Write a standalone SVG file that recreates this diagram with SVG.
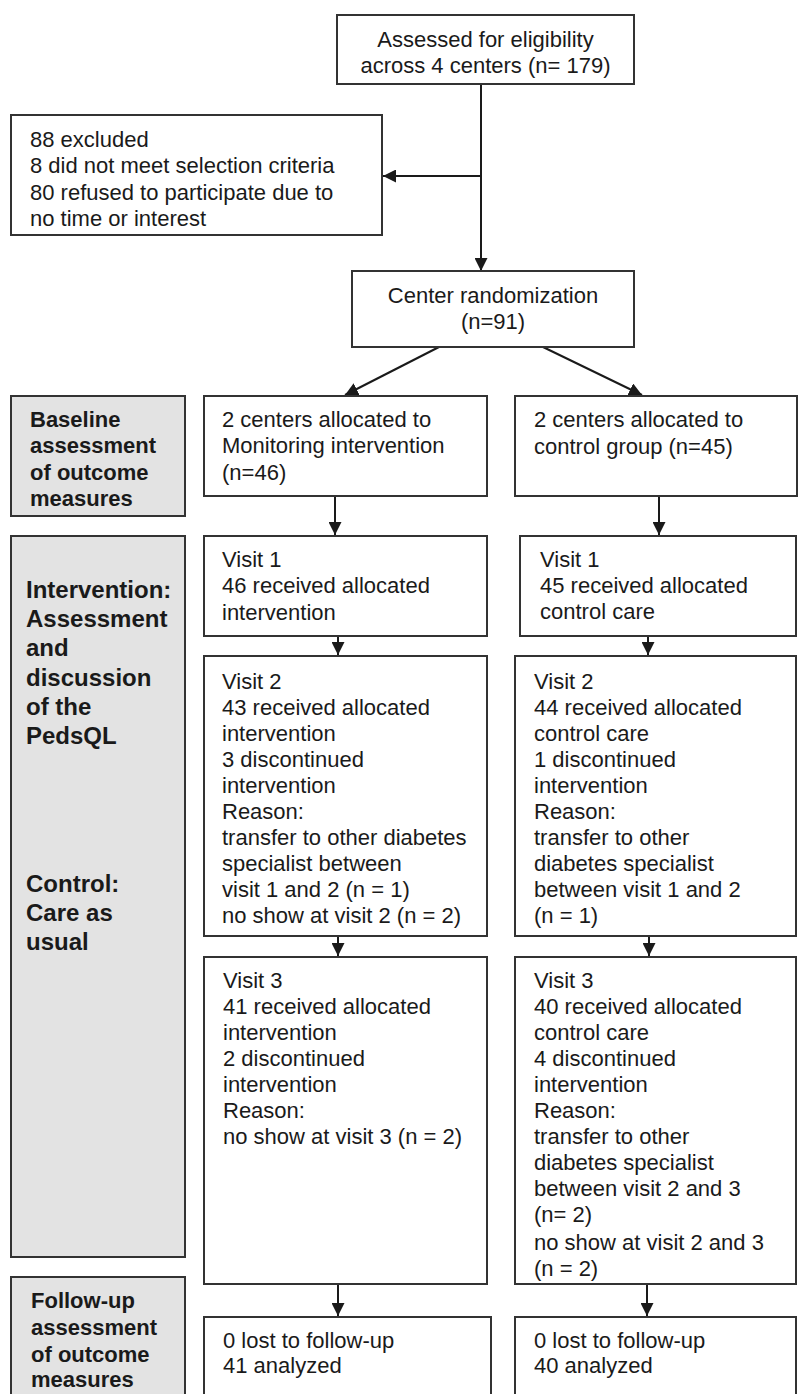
<svg xmlns="http://www.w3.org/2000/svg" width="798" height="1394" viewBox="0 0 798 1394">
  <defs>
    <marker id="arr" markerUnits="userSpaceOnUse" markerWidth="13" markerHeight="13" viewBox="0 0 12 12" refX="12" refY="6" orient="auto">
      <path d="M0,0 L12,6 L0,12 z" fill="#1a1a1a"/>
    </marker>
    <style>
      .box { fill: #ffffff; stroke: #333333; stroke-width: 2; }
      .gray { fill: #e3e3e3; stroke: #333333; stroke-width: 2; }
      .t { font-family: "Liberation Sans", Arial, sans-serif; font-size: 22px; fill: #1a1a1a; }
      .c { text-anchor: middle; }
      .b { font-weight: bold; }
      .b24 { font-size: 24px; font-weight: bold; }
      .ln { stroke: #1a1a1a; stroke-width: 2; fill: none; marker-end: url(#arr); }
      .ln0 { stroke: #1a1a1a; stroke-width: 2; fill: none; }
    </style>
  </defs>
  <rect width="798" height="1394" fill="#ffffff"/>

  <g id="connectors">
    <line class="ln" x1="481" y1="84" x2="481" y2="271"/>
    <line class="ln" x1="481" y1="176" x2="383" y2="176"/>
    <line class="ln" x1="439" y1="347" x2="345" y2="395"/>
    <line class="ln" x1="543" y1="347" x2="642" y2="395"/>
    <line class="ln" x1="335" y1="496" x2="335" y2="535"/>
    <line class="ln" x1="659" y1="496" x2="659" y2="535"/>
    <line class="ln" x1="338" y1="636" x2="338" y2="655"/>
    <line class="ln" x1="648" y1="636" x2="648" y2="655"/>
    <line class="ln" x1="338" y1="936" x2="338" y2="956"/>
    <line class="ln" x1="649" y1="936" x2="649" y2="956"/>
    <line class="ln" x1="338" y1="1284" x2="338" y2="1316"/>
    <line class="ln" x1="647" y1="1284" x2="647" y2="1316"/>
  </g>

  <g id="assessed">
    <rect class="box" x="337" y="15" width="297" height="69"/>
    <text class="t c" x="485.5" y="47">Assessed for eligibility</text>
    <text class="t c" x="485.5" y="73">across 4 centers (n= 179)</text>
  </g>

  <g id="excluded">
    <rect class="box" x="11" y="115" width="371" height="120"/>
    <text class="t" x="30" y="147">88 excluded</text>
    <text class="t" x="30" y="173">8 did not meet selection criteria</text>
    <text class="t" x="30" y="200">80 refused to participate due to</text>
    <text class="t" x="30" y="226">no time or interest</text>
  </g>

  <g id="randomization">
    <rect class="box" x="352" y="271" width="282" height="76"/>
    <text class="t c" x="493" y="303">Center randomization</text>
    <text class="t c" x="493" y="329">(n=91)</text>
  </g>

  <g id="label-baseline">
    <rect class="gray" x="11" y="396" width="174" height="120"/>
    <text class="t b" x="30" y="427">Baseline</text>
    <text class="t b" x="30" y="453">assessment</text>
    <text class="t b" x="30" y="480">of outcome</text>
    <text class="t b" x="30" y="506">measures</text>
  </g>

  <g id="alloc-intervention">
    <rect class="box" x="204" y="396" width="283" height="100"/>
    <text class="t" x="222" y="427">2 centers allocated to</text>
    <text class="t" x="222" y="453">Monitoring intervention</text>
    <text class="t" x="222" y="480">(n=46)</text>
  </g>

  <g id="alloc-control">
    <rect class="box" x="515" y="396" width="282" height="100"/>
    <text class="t" x="534" y="427">2 centers allocated to</text>
    <text class="t" x="534" y="454">control group (n=45)</text>
  </g>

  <g id="label-intervention">
    <rect class="gray" x="11" y="536" width="174" height="721"/>
    <text class="t b24" x="26" y="598">Intervention:</text>
    <text class="t b24" x="26" y="627">Assessment</text>
    <text class="t b24" x="26" y="656">and</text>
    <text class="t b24" x="26" y="686">discussion</text>
    <text class="t b24" x="26" y="715">of the</text>
    <text class="t b24" x="26" y="744">PedsQL</text>
    <text class="t b24" x="26" y="892">Control:</text>
    <text class="t b24" x="26" y="921">Care as</text>
    <text class="t b24" x="26" y="950">usual</text>
  </g>

  <g id="visit1-intervention">
    <rect class="box" x="204" y="536" width="283" height="100"/>
    <text class="t" x="222" y="567">Visit 1</text>
    <text class="t" x="222" y="593">46 received allocated</text>
    <text class="t" x="222" y="620">intervention</text>
  </g>

  <g id="visit1-control">
    <rect class="box" x="520" y="536" width="276" height="100"/>
    <text class="t" x="540" y="567">Visit 1</text>
    <text class="t" x="540" y="593">45 received allocated</text>
    <text class="t" x="540" y="619">control care</text>
  </g>

  <g id="visit2-intervention">
    <rect class="box" x="204" y="656" width="283" height="280"/>
    <text class="t" x="222" y="689">Visit 2</text>
    <text class="t" x="222" y="715">43 received allocated</text>
    <text class="t" x="222" y="741">intervention</text>
    <text class="t" x="222" y="767">3 discontinued</text>
    <text class="t" x="222" y="793">intervention</text>
    <text class="t" x="222" y="819">Reason:</text>
    <text class="t" x="222" y="845">transfer to other diabetes</text>
    <text class="t" x="222" y="871">specialist between</text>
    <text class="t" x="222" y="897">visit 1 and 2 (n = 1)</text>
    <text class="t" x="222" y="923">no show at visit 2 (n = 2)</text>
  </g>

  <g id="visit2-control">
    <rect class="box" x="515" y="656" width="281" height="280"/>
    <text class="t" x="534" y="689">Visit 2</text>
    <text class="t" x="534" y="715">44 received allocated</text>
    <text class="t" x="534" y="741">control care</text>
    <text class="t" x="534" y="767">1 discontinued</text>
    <text class="t" x="534" y="793">intervention</text>
    <text class="t" x="534" y="819">Reason:</text>
    <text class="t" x="534" y="845">transfer to other</text>
    <text class="t" x="534" y="871">diabetes specialist</text>
    <text class="t" x="534" y="897">between visit 1 and 2</text>
    <text class="t" x="534" y="923">(n = 1)</text>
  </g>

  <g id="visit3-intervention">
    <rect class="box" x="204" y="957" width="283" height="327"/>
    <text class="t" x="223" y="988">Visit 3</text>
    <text class="t" x="223" y="1014">41 received allocated</text>
    <text class="t" x="223" y="1040">intervention</text>
    <text class="t" x="223" y="1066">2 discontinued</text>
    <text class="t" x="223" y="1092">intervention</text>
    <text class="t" x="223" y="1118">Reason:</text>
    <text class="t" x="223" y="1144">no show at visit 3 (n = 2)</text>
  </g>

  <g id="visit3-control">
    <rect class="box" x="515" y="957" width="281" height="327"/>
    <text class="t" x="534" y="988">Visit 3</text>
    <text class="t" x="534" y="1014">40 received allocated</text>
    <text class="t" x="534" y="1040">control care</text>
    <text class="t" x="534" y="1066">4 discontinued</text>
    <text class="t" x="534" y="1092">intervention</text>
    <text class="t" x="534" y="1118">Reason:</text>
    <text class="t" x="534" y="1144">transfer to other</text>
    <text class="t" x="534" y="1170">diabetes specialist</text>
    <text class="t" x="534" y="1196">between visit 2 and 3</text>
    <text class="t" x="534" y="1222">(n= 2)</text>
    <text class="t" x="534" y="1250">no show at visit 2 and 3</text>
    <text class="t" x="534" y="1276">(n = 2)</text>
  </g>

  <g id="label-followup">
    <rect class="gray" x="11" y="1277" width="174" height="130"/>
    <text class="t b" x="31" y="1308">Follow-up</text>
    <text class="t b" x="31" y="1335">assessment</text>
    <text class="t b" x="31" y="1362">of outcome</text>
    <text class="t b" x="31" y="1387">measures</text>
  </g>

  <g id="followup-intervention">
    <rect class="box" x="204" y="1317" width="287" height="100"/>
    <text class="t" x="223" y="1348">0 lost to follow-up</text>
    <text class="t" x="223" y="1373">41 analyzed</text>
  </g>

  <g id="followup-control">
    <rect class="box" x="515" y="1317" width="281" height="100"/>
    <text class="t" x="534" y="1348">0 lost to follow-up</text>
    <text class="t" x="534" y="1373">40 analyzed</text>
  </g>
</svg>
